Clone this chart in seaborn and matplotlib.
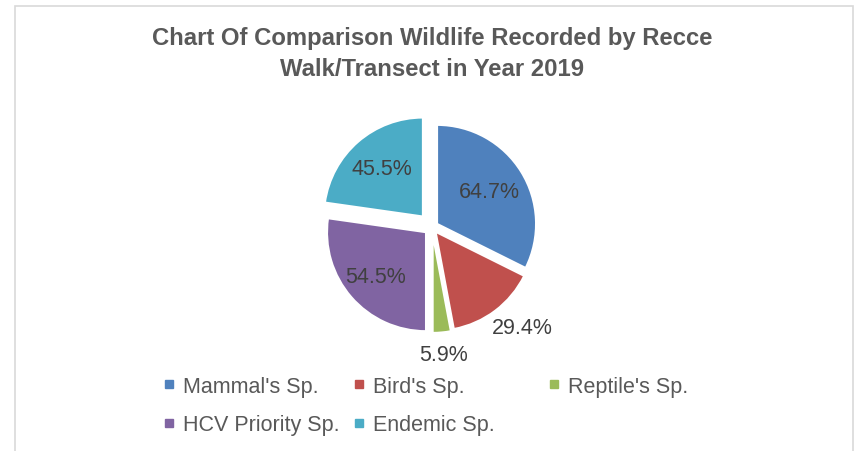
import numpy as np
import matplotlib
matplotlib.use("Agg")
import matplotlib.pyplot as plt
import seaborn as sns
from matplotlib.lines import Line2D
from matplotlib.patches import Rectangle

# data (labels are the values, slices are proportional to them)
categories = ["Mammal's Sp.", "Bird's Sp.", "Reptile's Sp.", "HCV Priority Sp.", "Endemic Sp."]
values = [64.7, 29.4, 5.9, 54.5, 45.5]
value_labels = ["64.7%", "29.4%", "5.9%", "54.5%", "45.5%"]

colors = sns.color_palette(["#4F81BD", "#C0504D", "#9BBB59", "#8064A2", "#4BACC6"])
explode = [0.06, 0.06, 0.07, 0.08, 0.14]
label_dist = [0.62, 1.3, 1.22, 0.68, 0.64]
label_turn = [0, 5, 0, 0, 0]  # small angular nudge (deg) for outside labels

sns.set_style("white")
plt.rcParams['font.family'] = ['Liberation Sans', 'DejaVu Sans']

W, H = 856, 452
fig = plt.figure(figsize=(W / 100, H / 100), dpi=100)

# chart-area border
fig.patches.append(Rectangle((15 / W, -0.05), 838 / W, (H - 7) / H + 0.05,
                             transform=fig.transFigure, fill=False,
                             edgecolor="#D9D9D9", lw=1.2))

# pie axes: centre ~ (432, 228) px, radius ~99 px
r = 99
cx, cy = 432, 228
side = 2.5 * r
ax = fig.add_axes([(cx - side / 2) / W, (H - cy - side / 2) / H, side / W, side / H])
wedges, _ = ax.pie(values, colors=colors, startangle=90, counterclock=False,
                   explode=explode, wedgeprops=dict(edgecolor="white", linewidth=1.5))
ax.set_xlim(-1.25, 1.25)
ax.set_ylim(-1.25, 1.25)

for w, lab, d, t in zip(wedges, value_labels, label_dist, label_turn):
    ang = np.deg2rad((w.theta1 + w.theta2) / 2 + t)
    x0, y0 = w.center
    ax.text(x0 + d * np.cos(ang), y0 + d * np.sin(ang), lab,
            ha="center", va="center", fontsize=15.5, color="#404040")

fig.text(cx / W, 1 - 54 / H,
         "Chart Of Comparison Wildlife Recorded by Recce\nWalk/Transect in Year 2019",
         ha="center", va="center", fontsize=17.2, fontweight="bold",
         color="#595959", linespacing=1.4)

# legend: three equal-width columns like the original
handles = [Line2D([], [], marker="s", linestyle="", markersize=6.2, color=c) for c in colors]
cols = [[0, 3], [1, 4], [2]]
col_x = [163, 353, 548]
for idx, x in zip(cols, col_x):
    fig.legend([handles[i] for i in idx], [categories[i] for i in idx],
               loc="upper left", bbox_to_anchor=(x / W, 1 - 377 / H),
               frameon=False, borderpad=0, borderaxespad=0,
               handlelength=0.6, handletextpad=0.35, labelspacing=0.8,
               prop=dict(size=15.5), labelcolor="#595959")

fig.savefig("out.png", dpi=100, facecolor="white")
